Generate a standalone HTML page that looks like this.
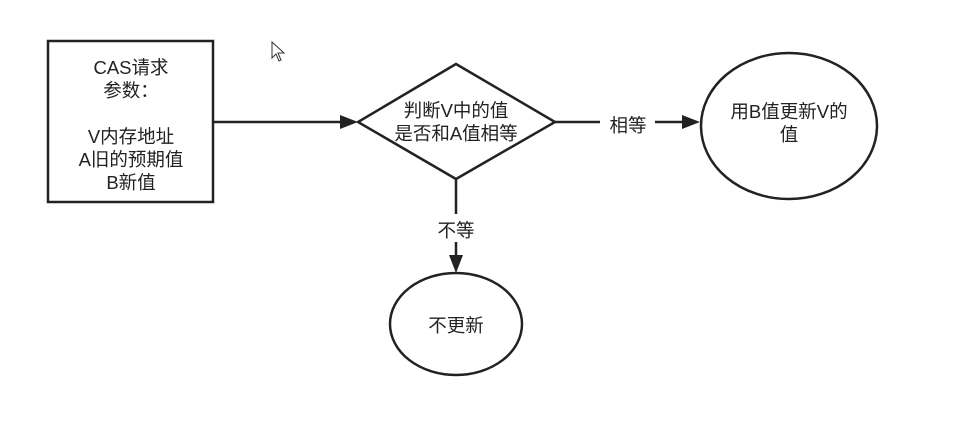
<!DOCTYPE html>
<html><head><meta charset="utf-8"><style>
html,body{margin:0;padding:0;background:#fff;}
svg text{font-family:"Liberation Sans","Noto Sans CJK SC",sans-serif;font-size:18.5px;fill:#222;}
</style></head><body>
<svg width="954" height="425" viewBox="0 0 954 425" xmlns="http://www.w3.org/2000/svg">
<rect width="954" height="425" fill="#fff"/>
<g stroke="#222" stroke-width="2.5" fill="none">
<rect x="48" y="41" width="165" height="161"/>
<polygon points="456,64 555,122 456,179 358,122"/>
<ellipse cx="789" cy="126" rx="88" ry="73"/>
<ellipse cx="456" cy="324" rx="66" ry="51"/>
<line x1="213" y1="122" x2="340" y2="122"/>
<line x1="555" y1="122" x2="600" y2="122"/>
<line x1="655" y1="122" x2="682" y2="122"/>
<line x1="456" y1="179" x2="456" y2="214"/>
<line x1="456" y1="242" x2="456" y2="255"/>
</g>
<g fill="#222">
<polygon points="340,115 358,122 340,129"/>
<polygon points="682,115 700,122 682,129"/>
<polygon points="449,255 456,273 463,255"/>
</g>
<g text-anchor="middle">
<text x="131" y="74">CAS请求</text>
<text x="131" y="97">参数：</text>
<text x="131" y="143">V内存地址</text>
<text x="131" y="166">A旧的预期值</text>
<text x="131" y="189">B新值</text>
<text x="456" y="117">判断V中的值</text>
<text x="456" y="140">是否和A值相等</text>
<text x="628" y="132">相等</text>
<text x="456" y="237">不等</text>
<text x="789" y="118">用B值更新V的</text>
<text x="789" y="141">值</text>
<text x="456" y="332">不更新</text>
</g>
<path d="M272,42 L272,58 L276,54 L279,61 L281,60 L278,53 L284,53 Z" fill="#fff" stroke="#333" stroke-width="1"/>
</svg>
</body></html>
